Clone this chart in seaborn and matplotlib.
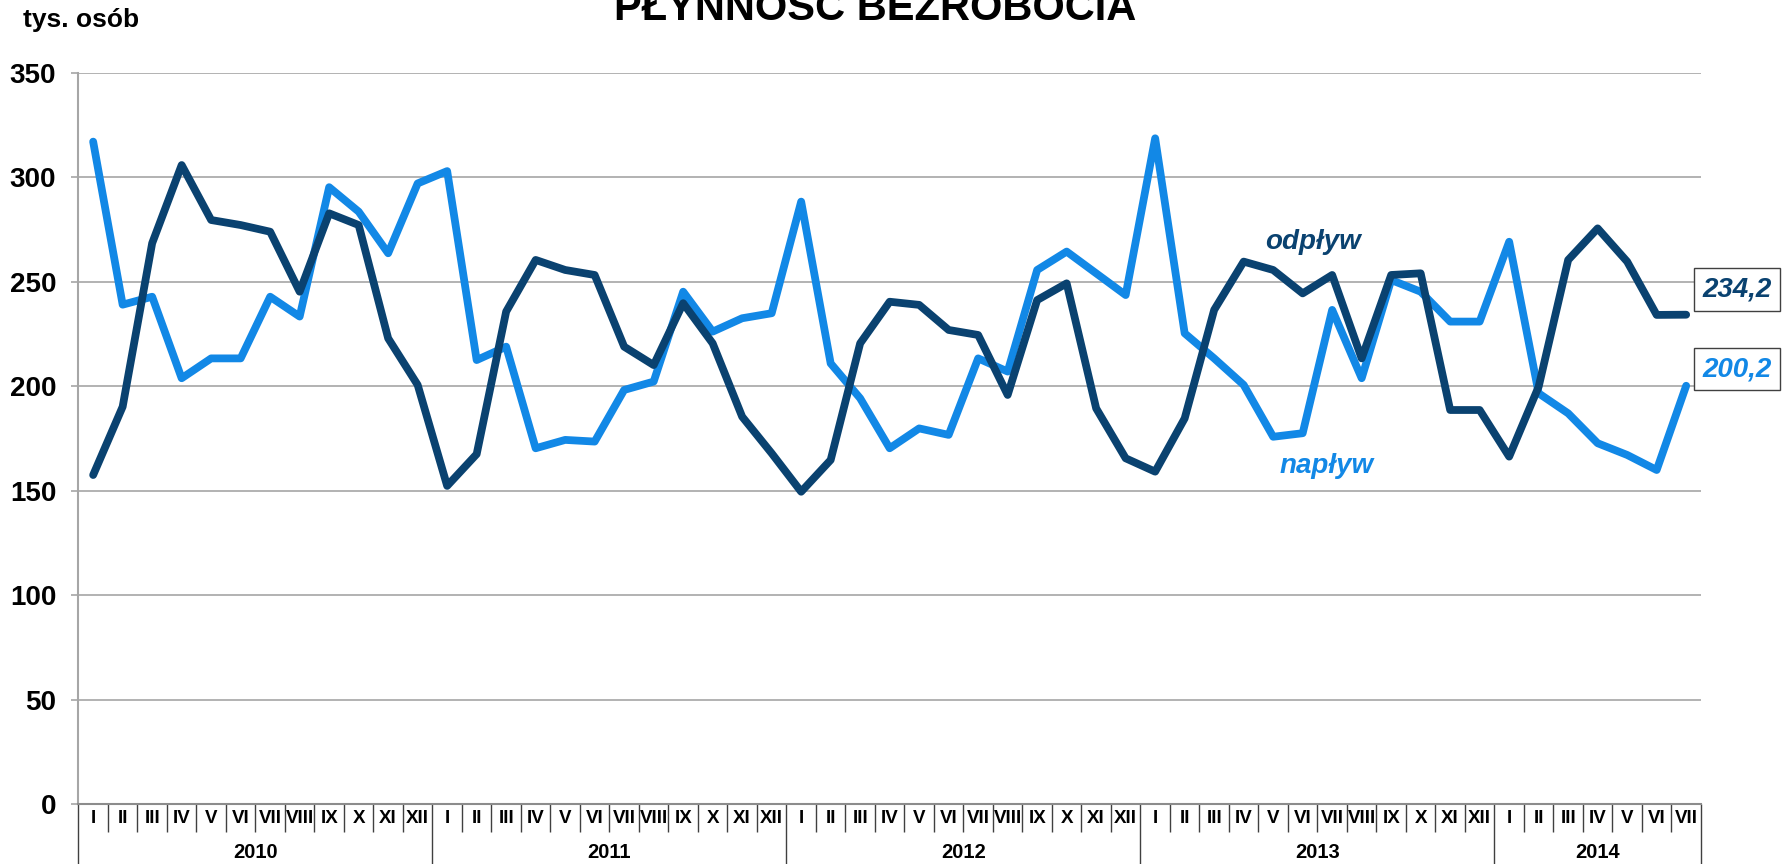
import matplotlib
matplotlib.use("Agg")
import matplotlib.pyplot as plt
import matplotlib.transforms as mtransforms
import numpy as np
import pandas as pd
import seaborn as sns

# -----------------------------
# Data (tys. osób)
# -----------------------------
months = ["I", "II", "III", "IV", "V", "VI", "VII", "VIII", "IX", "X", "XI", "XII"]
years = ["2010", "2011", "2012", "2013", "2014"]
months_per_year = [12, 12, 12, 12, 7]

naplyw = [
    317.0, 239.0, 242.8, 203.8, 213.3, 213.3, 242.8, 233.3, 295.2, 283.5, 263.6, 297.0,
    302.9, 212.5, 218.9, 170.3, 174.3, 173.5, 198.2, 202.2, 245.2, 226.1, 232.5, 234.9,
    288.3, 210.9, 194.2, 170.3, 179.8, 176.7, 213.3, 207.0, 255.6, 264.4, 254.0, 243.6,
    318.6, 225.3, 213.3, 200.6, 175.8, 177.5, 236.5, 203.8, 250.8, 245.2, 230.9, 230.9,
    269.1, 196.6, 187.0, 172.7, 167.1, 159.9, 200.2,
]
odplyw = [
    157.5, 190.2, 268.4, 305.8, 279.5, 277.1, 273.9, 245.2, 282.7, 277.1, 222.9, 200.6,
    152.3, 167.5, 235.7, 260.4, 255.6, 253.2, 218.9, 210.1, 239.7, 220.5, 185.4, 167.9,
    149.5, 164.7, 220.5, 240.4, 238.9, 226.9, 224.5, 195.8, 241.2, 249.2, 189.4, 165.5,
    159.1, 184.6, 236.5, 259.6, 255.6, 244.4, 253.2, 213.3, 253.2, 254.0, 188.6, 188.6,
    166.3, 199.8, 260.4, 275.5, 259.6, 234.1, 234.2,
]

DARK = "#0A4270"
LIGHT = "#1288E6"

month_labels = [m for n in months_per_year for m in months[:n]]
n = len(month_labels)
df = pd.DataFrame({
    "idx": list(range(n)) * 2,
    "value": naplyw + odplyw,
    "seria": ["napływ"] * n + ["odpływ"] * n,
})

sns.set_style("white")
plt.rcParams["font.family"] = ["Liberation Sans", "DejaVu Sans"]
plt.rcParams["text.color"] = "black"

fig, ax = plt.subplots(figsize=(17.82, 8.64), dpi=100)
fig.subplots_adjust(left=0.044, right=0.9545, top=0.9159, bottom=0.0692)

sns.lineplot(
    data=df, x="idx", y="value", hue="seria",
    hue_order=["napływ", "odpływ"],
    palette={"napływ": LIGHT, "odpływ": DARK},
    linewidth=5.6, legend=False, sort=False, ax=ax,
)
for line in ax.get_lines():
    line.set_solid_capstyle("round")
    line.set_solid_joinstyle("round")

# -----------------------------
# Axes
# -----------------------------
ax.set_xlim(-0.5, n - 0.5)
ax.set_ylim(0, 350)
ax.set_xlabel("")
ax.set_ylabel("")
ax.set_yticks(range(0, 351, 50))
ax.yaxis.grid(True, color="#a6a6a6", linewidth=1.2)
ax.set_axisbelow(True)

for side in ["top", "right"]:
    ax.spines[side].set_visible(False)
ax.spines["left"].set_color("#a6a6a6")
ax.spines["left"].set_linewidth(1.5)
ax.spines["bottom"].set_color("#8c8c8c")
ax.spines["bottom"].set_linewidth(1.5)

ax.tick_params(axis="y", left=True, length=5, width=1.2, color="#a6a6a6",
               labelsize=20, labelcolor="black", pad=11)
for lab in ax.get_yticklabels():
    lab.set_fontweight("bold")

# two-level category axis
bounds = np.cumsum([0] + months_per_year) - 0.5
ax.set_xticks(bounds)
ax.set_xticklabels([])
ax.set_xticks(np.arange(-0.5, n, 1), minor=True)
ax.tick_params(axis="x", which="major", bottom=True, length=43, width=1,
               color="#404040", direction="out")
ax.tick_params(axis="x", which="minor", bottom=True, length=20, width=1,
               color="#404040", direction="out")

trans = mtransforms.blended_transform_factory(ax.transData, ax.transAxes)
for i, m in enumerate(month_labels):
    ax.annotate(m, xy=(i, 0), xycoords=trans, xytext=(0, -10),
                textcoords="offset points", ha="center", va="center",
                fontsize=13.5, fontweight="bold", color="black",
                annotation_clip=False)
for k, y in enumerate(years):
    center = (bounds[k] + bounds[k + 1]) / 2
    ax.annotate(y, xy=(center, 0), xycoords=trans, xytext=(0, -34.5),
                textcoords="offset points", ha="center", va="center",
                fontsize=14.5, fontweight="bold", color="black",
                annotation_clip=False)

# series names
ax.text(41.35, 269, "odpływ", color=DARK, fontsize=20, fontweight="bold",
        style="italic", ha="center", va="center")
ax.text(41.8, 162, "napływ", color=LIGHT, fontsize=20, fontweight="bold",
        style="italic", ha="center", va="center")

# last values in boxes
for vals, color, dy in [(odplyw, DARK, 12), (naplyw, LIGHT, 8)]:
    txt = f"{vals[-1]:.1f}".replace(".", ",")
    ax.text(n + 0.72, vals[-1] + dy, txt, color=color, fontsize=20,
            fontweight="bold", style="italic", ha="center", va="center",
            clip_on=False,
            bbox=dict(boxstyle="square,pad=0.3", fc="white", ec="#404040", lw=1))

fig.text(0.491, 0.977, "PŁYNNOŚĆ BEZROBOCIA", ha="center", va="baseline",
         fontsize=30, fontweight="bold", color="black")
fig.text(0.013, 0.969, "tys. osób", ha="left", va="baseline",
         fontsize=19, fontweight="bold", color="black")

fig.savefig("out.png", dpi=100)
